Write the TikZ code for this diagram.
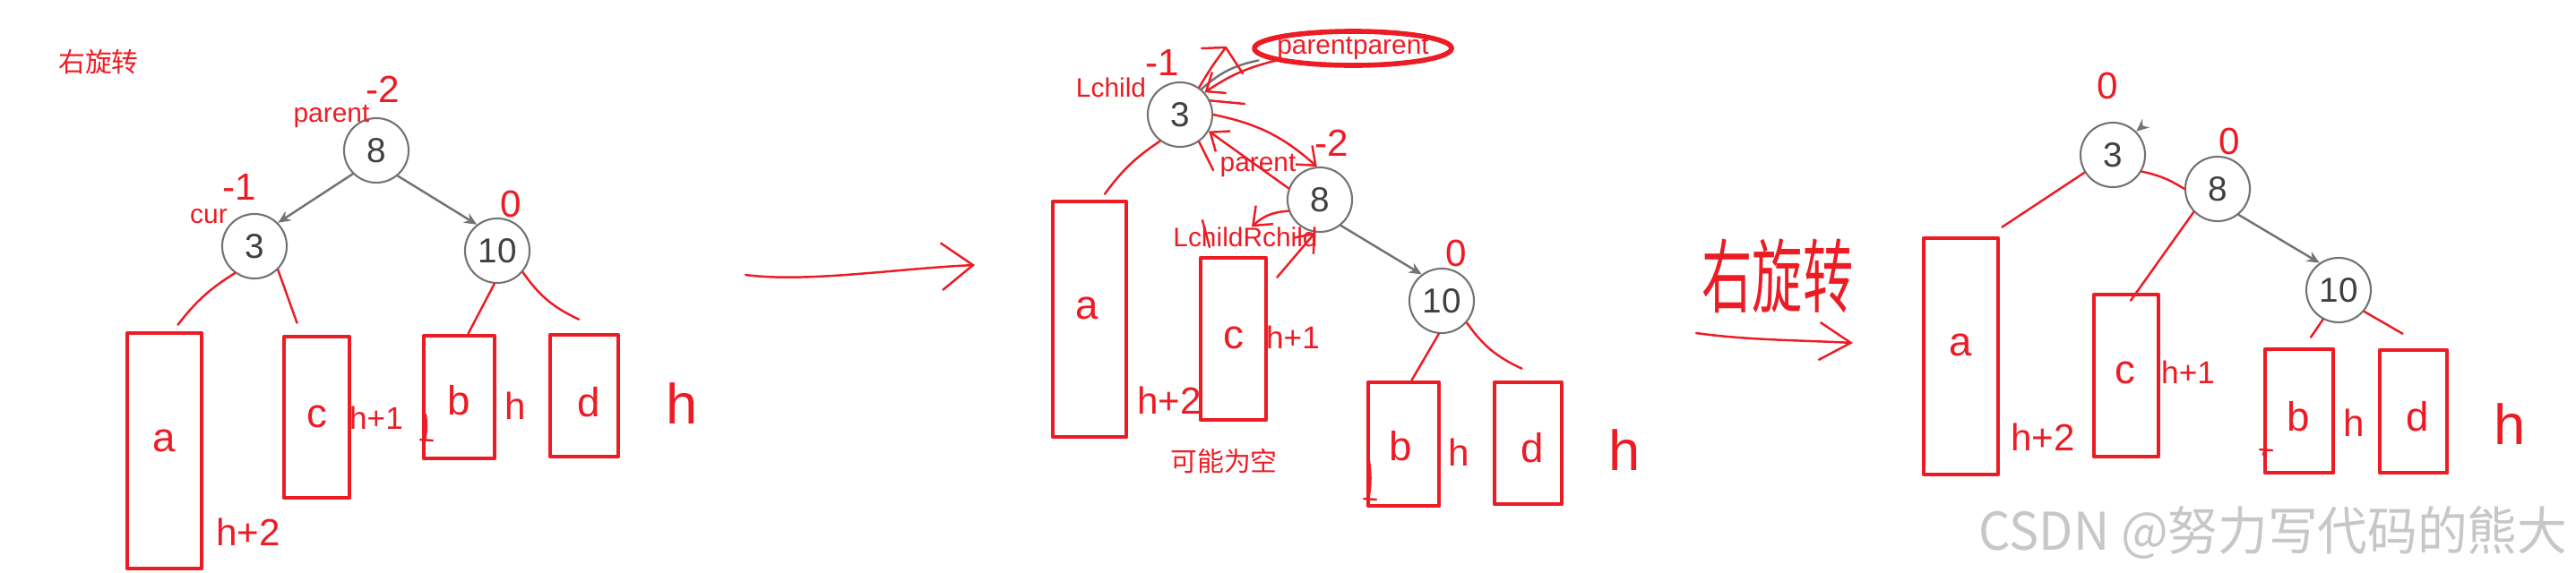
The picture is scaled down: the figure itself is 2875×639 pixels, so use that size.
\documentclass[tikz,border=0pt]{standalone}
\usepackage{fontspec}
\setmainfont{Liberation Sans}
\newfontfamily\cjk{Noto Sans CJK SC}
\usetikzlibrary{fit,arrows.meta}
\definecolor{pen}{RGB}{237,28,36}
\definecolor{ring}{RGB}{115,115,115}

\begin{document}
\begin{tikzpicture}[x=0.01cm, y=-0.01cm, line join=round, line cap=round]
	\tikzset{
		tree node/.style={circle, draw=ring, line width=0.6pt, minimum size=0.72cm, inner sep=0pt, text=black!75, font=\fontsize{11}{11}\selectfont},
		block/.style={draw=pen, line width=1.3pt, inner sep=0pt, fit={#1}},
		ink/.style={draw=pen, line width=0.7pt},
		ink arrow/.style={ink, -{Straight Barb[length=5pt, width=8pt]}},
		link/.style={draw=ring, line width=0.7pt, -{Stealth[length=4pt, width=3.5pt]}},
		note/.style={text=pen, inner sep=0pt, font=\fontsize{8.5}{9}\selectfont},
		hand/.style={text=pen, inner sep=0pt, font=\fontsize{#1}{#1}\selectfont},
	}
	\useasboundingbox (0,0) rectangle (2875,639);
	% first tree
	\node[note, font=\cjk\fontsize{8.5}{9}\selectfont] (title) at (110,69) {右旋转};
	\node[tree node] (p8) at (420,168) {8};
	\node[tree node] (p3) at (284,275) {3};
	\node[tree node] (p10) at (555,280) {10};
	\draw[link] (p8.225) -- (p3.45);
	\draw[link] (p8.-50) -- (p10.128);
	\node[note] (p lab1) at (370,130) {parent};
	\node[note] (p lab2) at (233,242) {cur};
	\node[block={(142,372)(225,635)}] (p a) {};
	\node[block={(317,376)(390,556)}] (p c) {};
	\node[block={(473,375)(552,512)}] (p b) {};
	\node[block={(614,374)(690,510)}] (p d) {};
	\draw[ink] (p3.234) to[bend right=10] ([xshift=0.15cm,yshift=0.07cm]p a.north);
	\draw[ink] (p3.-45) -- ([xshift=-0.22cm,yshift=0.13cm]p c.north);
	\draw[ink] (p10.265) -- ([xshift=0.1cm]p b.north);
	\draw[ink] (p10.-40) to[bend right=15] ([xshift=-0.06cm,yshift=0.15cm]p d.north);
	% middle tree
	\coordinate (go1) at (832,307);
	\coordinate (go2) at (1088,296);
	\draw[ink, -{Straight Barb[length=10pt, width=15pt]}] (go1) .. controls (900,316) and (1000,300) .. (go2);
	\node[tree node] (q3) at (1317,128) {3};
	\node[tree node] (q8) at (1473,223) {8};
	\node[tree node] (q10) at (1609,336) {10};
	\node[note] (pp) at (1510,54) {parentparent};
	\draw[pen, line width=1.6pt] (pp.center) ellipse [x radius=1.1cm, y radius=0.19cm];
	\node[note] (q lab1) at (1240,98) {Lchild};
	\node[note] (q lab2) at (1404,185) {parent};
	\node[note] (q lab3) at (1390,265) {LchildRchild};
	\node[note, font=\cjk\fontsize{8.5}{9}\selectfont] (q lab4) at (1366,515) {可能为空};
	\node[block={(1175,225)(1257,488)}] (q a) {};
	\node[block={(1340,288)(1413,469)}] (q c) {};
	\node[block={(1527,427)(1606,565)}] (q b) {};
	\node[block={(1668,427)(1743,563)}] (q d) {};
	\draw[ring, line width=0.7pt] ([xshift=-0.2cm]pp.south west) to[bend right=15] (q3.50);
	\draw[ink arrow] (pp.south west) to[bend right=10] (q3.42);
	\draw[ink] (q3.55) .. controls (1352,75) .. (1368,53);
	\draw[ink] (1341,54) -- (1368,53) -- (1387,82);
	\draw[ink] (q3.25) -- (1389,116);
	\draw[ink arrow] (q3.east) to[bend left=15] (q8.95);
	\draw[ink arrow] (q8.160) -- (q3.-30);
	\draw[ink] (q3.-55) -- (1354,190);
	\draw[ink arrow] (q8.200) to[bend right=20] ([xshift=0.07cm]q lab3.north);
	\draw[ink arrow] ([xshift=0.1cm,yshift=-0.24cm]q c.north east) -- (q8.262);
	\draw[ink] (1342,246) -- (1350,276);
	\draw[link] (q8.-51) -- (q10.127);
	\draw[ink] (q3.233) to[bend right=10] ([xshift=0.17cm,yshift=0.06cm]q a.north);
	\draw[ink] (q10.265) -- ([xshift=0.09cm]q b.north);
	\draw[ink] (q10.-41) to[bend right=15] ([xshift=-0.07cm,yshift=0.13cm]q d.north);
	% last tree
	\node[text=pen, font=\cjk\fontsize{16}{16}\selectfont, yscale=1.6, inner sep=0pt] (title2) at (1984,308) {右旋转};
	\coordinate (go3) at (1893,372);
	\coordinate (go4) at (2068,383);
	\draw[ink, -{Straight Barb[length=10pt, width=12pt]}] (go3) .. controls (1950,380) and (2010,380) .. (go4);
	\node[tree node] (r3) at (2358,173) {3};
	\node[tree node] (r8) at (2475,211) {8};
	\node[tree node] (r10) at (2610,324) {10};
	\node[block={(2147,266)(2230,530)}] (r a) {};
	\node[block={(2337,329)(2409,510)}] (r c) {};
	\node[block={(2528,390)(2604,528)}] (r b) {};
	\node[block={(2656,391)(2731,528)}] (r d) {};
	\draw[link] ([shift={(0.07cm,0.06cm)}]r3.45) -- (r3.45);
	\draw[ink] (r3.212) -- ([xshift=0.02cm,yshift=0.1cm]r a.north east);
	\draw[ink] (r3.-30) to[bend left=10] (r8.west);
	\draw[ink] (r8.224) -- ([xshift=0.05cm,yshift=-0.09cm]r c.north);
	\draw[link] (r8.-51) -- (r10.125);
	\draw[ink] (r10.242) -- ([xshift=0.13cm,yshift=0.11cm]r b.north);
	\draw[ink] (r10.-40) -- ([xshift=-0.12cm,yshift=0.16cm]r d.north);
	% balance factors and heights
	\foreach \x/\y/\t [count=\i] in {427/100/-2, 267/209/-1, 570/228/0, 1297/70/-1, 1486/160/-2, 1625/283/0, 2352/96/0, 2488/158/0}
		\node[hand=12] (bf\i) at (\x,\y) {\t};
	\foreach \x/\y/\t [count=\i] in {183/492/a, 354/465/c, 512/447/b, 657/449/d, 1213/344/a, 1377/377/c, 1563/498/b, 1710/500/d, 2188/385/a, 2372/416/c, 2565/465/b, 2698/465/d}
		\node[hand=13] (sub\i) at (\x,\y) {\t};
	\foreach \x/\y/\t/\s [count=\i] in {420/467/h+1/10, 277/594/h+2/12, 575/453/h/12, 761/451/h/18, 1443/377/h+1/10, 1305/447/h+2/12, 1628/505/h/12, 1813/503/h/18, 2442/416/h+1/10, 2280/488/h+2/12, 2627/472/h/12, 2801/474/h/18}
		\node[hand=\s] (ht\i) at (\x,\y) {\t};
	\foreach \x/\y/\l in {475/463/34, 1528/515/48, 2528/476/32}
	{
		\draw[ink] (\x,\y) to[bend left=10] (\x-2,\y+\l);
		\draw[ink] (\x-6,\y+\l-6) -- (\x+8,\y+\l-5);
	}
	\node[text=black!22, font=\cjk\fontsize{16.5}{17}\selectfont, xscale=0.96, anchor=east, inner sep=0pt] (mark) at (2866,595) {CSDN @努力写代码的熊大};
\end{tikzpicture}
\end{document}
